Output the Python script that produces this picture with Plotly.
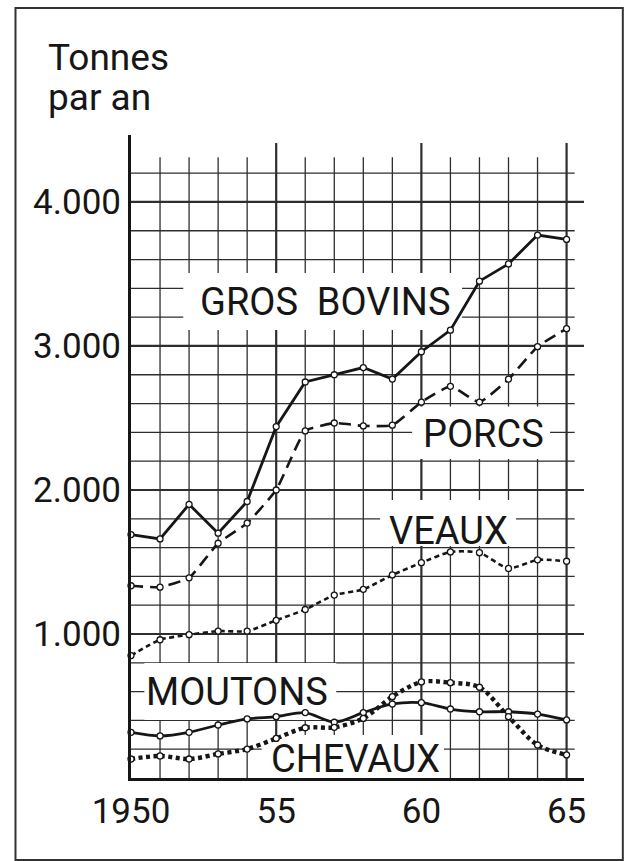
import plotly.graph_objects as go

# --- données ---
annees = [1950, 1951, 1952, 1953, 1954, 1955, 1956, 1957,
          1958, 1959, 1960, 1961, 1962, 1963, 1964, 1965]

gros_bovins = [1690, 1660, 1900, 1700, 1920, 2440, 2750, 2800,
               2850, 2770, 2960, 3110, 3450, 3570, 3770, 3740]
porcs = [1335, 1325, 1390, 1630, 1770, 2000, 2410, 2465,
         2445, 2450, 2610, 2720, 2610, 2770, 2995, 3120]
veaux = [850, 960, 995, 1020, 1020, 1095, 1170, 1270,
         1310, 1410, 1495, 1570, 1565, 1455, 1515, 1505]
moutons = [317, 292, 317, 368, 410, 426, 454, 387,
           454, 514, 523, 479, 460, 460, 444, 403]
chevaux = [132, 153, 132, 167, 201, 275, 349, 352,
           414, 565, 667, 662, 630, 426, 229, 160]

y_ticks = [1000, 2000, 3000, 4000]
y_ticktext = ["1.000", "2.000", "3.000", "4.000"]
x_ticks = [1950, 1955, 1960, 1965]
x_ticktext = ["1950", "55", "60", "65"]

FONT = "Roboto, Liberation Sans, sans-serif"
INK = "#161616"
GRID = "#2e2e2e"

fig = go.Figure()

series = [
    ("GROS BOVINS", gros_bovins, dict(width=2.8, dash="solid", shape="linear")),
    ("PORCS", porcs, dict(width=2.6, dash="12px,7px", shape="spline", smoothing=0.4)),
    ("VEAUX", veaux, dict(width=2.6, dash="5px,3.5px", shape="spline", smoothing=0.6)),
    ("MOUTONS", moutons, dict(width=2.8, dash="solid", shape="spline", smoothing=0.8)),
    ("CHEVAUX", chevaux, dict(width=4.4, dash="4px,3.5px", shape="spline", smoothing=0.9)),
]
for nom, vals, ligne in series:
    fig.add_trace(go.Scatter(
        x=annees, y=vals, name=nom, mode="lines+markers",
        line=dict(color=INK, **ligne),
        marker=dict(symbol="circle", size=6, color="white",
                    line=dict(color=INK, width=1.3)),
        cliponaxis=False, showlegend=False,
    ))

# quadrillage
shapes = []
for v in range(200, 4400, 200):
    major = v % 1000 == 0
    shapes.append(dict(type="line", xref="x", yref="y", layer="below",
                       x0=1950, x1=1965.6 if major else 1965.28, y0=v, y1=v,
                       line=dict(color=GRID, width=2.2 if major else 1.3)))
for a in range(1951, 1966):
    major = a % 5 == 0
    shapes.append(dict(type="line", xref="x", yref="y", layer="below",
                       x0=a, x1=a, y0=0, y1=4410 if major else 4310,
                       line=dict(color=GRID, width=2.2 if major else 1.3)))

# cartouches blancs sous les étiquettes
boites = [
    (1951.8, 1961.4, 3111, 3507),
    (1959.68, 1964.43, 2215, 2580),
    (1958.58, 1963.26, 1611, 1931),
    (1950.46, 1957.07, 403, 798),
    (1954.5, 1960.78, 0, 299),
]
for x0, x1, y0, y1 in boites:
    shapes.append(dict(type="rect", xref="x", yref="y", layer="below",
                       x0=x0, x1=x1, y0=y0, y1=y1,
                       fillcolor="white", line=dict(width=0)))

# cadre
shapes.append(dict(type="rect", xref="paper", yref="paper", layer="above",
                   x0=-0.255, x1=1.0857, y0=-0.1275, y1=1.1975,
                   line=dict(color="#333", width=2)))
fig.update_layout(shapes=shapes)

etiquettes = [
    ("GROS\u00a0\u00a0BOVINS", 1956.68, 3306),
    ("PORCS", 1962.15, 2392),
    ("VEAUX", 1960.95, 1715),
    ("MOUTONS", 1953.66, 597),
    ("CHEVAUX", 1957.72, 132),
]
for txt, x, y in etiquettes:
    fig.add_annotation(x=x, y=y, xref="x", yref="y", text=txt, showarrow=False,
                       xanchor="center", yanchor="middle",
                       font=dict(family=FONT, size=38, color=INK))

fig.add_annotation(x=-0.187, y=1.121, xref="paper", yref="paper", text="Tonnes",
                   showarrow=False, xanchor="left", yanchor="middle",
                   font=dict(family=FONT, size=37, color=INK))
fig.add_annotation(x=-0.187, y=1.059, xref="paper", yref="paper", text="par an",
                   showarrow=False, xanchor="left", yanchor="middle",
                   font=dict(family=FONT, size=37, color=INK))

fig.update_xaxes(range=[1950, 1965.6], showgrid=False, zeroline=False,
                 showline=True, linecolor=INK, linewidth=3, automargin=False,
                 tickvals=x_ticks, ticktext=x_ticktext,
                 ticks="", tickfont=dict(family=FONT, size=35, color=INK))
fig.update_yaxes(range=[0, 4465], showgrid=False, zeroline=False,
                 showline=True, linecolor=INK, linewidth=3, automargin=False,
                 tickvals=y_ticks, ticktext=y_ticktext,
                 ticks="", tickfont=dict(family=FONT, size=35, color=INK))

fig.update_layout(
    width=625, height=861,
    margin=dict(l=131, r=41, t=135, b=83),
    paper_bgcolor="white", plot_bgcolor="white",
    font=dict(family=FONT, color=INK),
)

fig.write_html("out.html", config={"displayModeBar": False},
               post_script="document.body.style.margin='0';")
